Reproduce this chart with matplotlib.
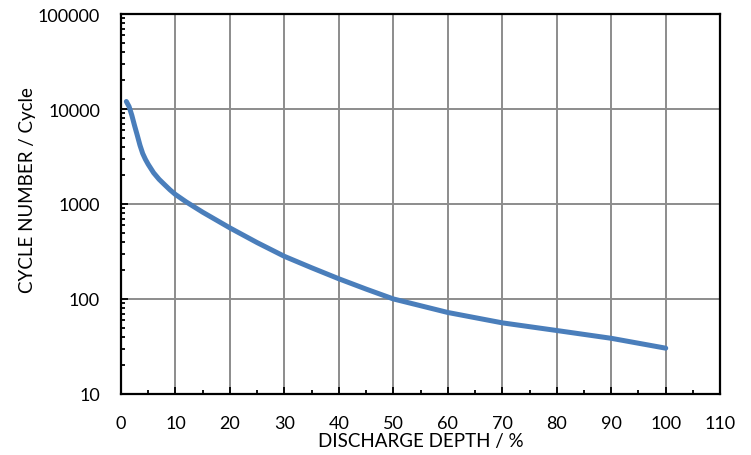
import matplotlib
matplotlib.use('Agg')
import matplotlib.pyplot as plt
from matplotlib.ticker import FixedLocator, NullFormatter, LogLocator
import numpy as np

depth = [1, 1.5, 2, 2.5, 3, 3.5, 4, 4.5, 5, 6, 7, 8, 9, 10, 12, 15, 20, 25,
         30, 35, 40, 45, 50, 60, 70, 80, 90, 100]
cycles = [12000, 10600, 8600, 6700, 5300, 4150, 3400, 2950, 2620, 2130,
          1820, 1600, 1410, 1260, 1050, 820, 560, 392, 281, 213, 163, 127,
          100, 72, 56, 46.5, 38.5, 30.3]

xticks = list(range(0, 111, 10))
yticks = [10, 100, 1000, 10000, 100000]

plt.rcParams['font.family'] = ['Lato', 'DejaVu Sans']

fig = plt.figure(figsize=(7.51, 4.56), dpi=100)
ax = fig.add_axes([0.161, 0.134, 0.798, 0.833])

ax.plot(depth, cycles, color='#4a7ebb', lw=3.6, solid_capstyle='round',
        solid_joinstyle='round', zorder=3)

ax.set_yscale('log')
ax.set_xlim(0, 110)
ax.set_ylim(10, 100000)
ax.set_xticks(xticks)
ax.set_xticklabels([str(t) for t in xticks])
ax.xaxis.set_minor_locator(FixedLocator(np.arange(5, 110, 10)))
ax.set_yticks(yticks)
ax.set_yticklabels([str(t) for t in yticks])
ax.yaxis.set_minor_locator(LogLocator(base=10, subs=np.arange(2, 10)))
ax.yaxis.set_minor_formatter(NullFormatter())

ax.grid(True, which='major', color='#8c8c8c', lw=1.4, zorder=1)
ax.tick_params(which='both', direction='in', top=False, right=False,
               labelsize=13, color='black', width=1.3)
ax.tick_params(which='major', length=5, pad=15)
ax.tick_params(which='minor', length=3)
for s in ax.spines.values():
    s.set_linewidth(1.6)
    s.set_color('black')

ax.set_xlabel('DISCHARGE DEPTH / %', fontsize=13.5)
ax.set_ylabel('CYCLE NUMBER / Cycle', fontsize=13.5)
ax.xaxis.set_label_coords(0.5, -0.1)
ax.yaxis.set_label_coords(-0.142, 0.539)

fig.savefig('out.png', dpi=100)
